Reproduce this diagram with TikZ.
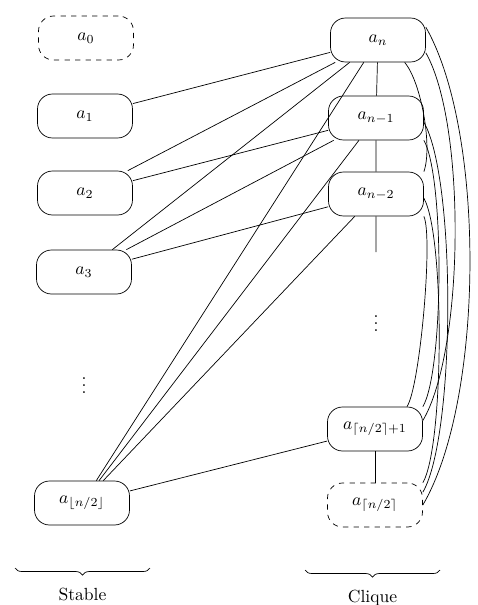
\documentclass[tikz,border=0pt]{standalone}
\usepackage{amsmath}
\usepackage{amssymb}
\usetikzlibrary{decorations.pathreplacing}

\begin{document}
\begin{tikzpicture}[x=0.02cm, y=-0.02cm,
  vert/.style={draw, rounded corners=0.3cm, minimum width=1.9cm,
               minimum height=0.88cm, align=center},
  ghost/.style={vert, dashed},
  clq/.style={bend left=30, looseness=#1}]
  \useasboundingbox (0,0) rectangle (477,605);

  % stable side
  \node[ghost] (a0)  at (86,  38) {$a_0$};
  \node[vert]  (a1)  at (85, 116) {$a_1$};
  \node[vert]  (a2)  at (85, 193) {$a_2$};
  \node[vert]  (a3)  at (84, 272) {$a_3$};
  \node        (ldots) at (84, 380) {$\vdots$};
  \node[vert]  (afl) at (82, 503) {$a_{\lfloor n/2\rfloor}$};

  % clique side
  \node[vert]  (an)  at (378,  40) {$a_n$};
  \node[vert]  (an1) at (376, 118) {$a_{n-1}$};
  \node[vert]  (an2) at (376, 194) {$a_{n-2}$};
  \coordinate  (cut) at (376, 252);
  \node        (rdots) at (376, 318) {$\vdots$};
  \node[vert]  (ac1) at (375, 429) {$a_{\lceil n/2\rceil+1}$};
  \node[ghost] (ac)  at (375, 505) {$a_{\lceil n/2\rceil}$};

  % stable -- clique
  \draw (a1) -- (an);
  \draw (a2) -- (an);  \draw (a2) -- (an1);
  \draw (a3) -- (an);  \draw (a3) -- (an1);  \draw (a3) -- (an2);
  \draw (afl) -- (an); \draw (afl) -- (an1); \draw (afl) -- (an2);
  \draw (afl) -- (ac1);

  % clique edges
  \draw (an) -- (an1) -- (an2) -- (cut);
  \draw (ac1) -- (ac);
  \draw (an.-40)  to[clq=0.6]  (an2.25);
  \draw (an.-15)  to[clq=0.57] (ac1.10);
  \draw (an.15)   to[clq=0.65] (ac.0);
  \draw (an1.-25) to[clq=0.4]  (ac1.25);
  \draw (an1.-5)  to[clq=0.45] (ac.15);
  \draw (an2.-25) to[clq=0.3]  (ac1.35);
  \draw (an2.-5)  to[clq=0.38] (ac.25);

  % braces
  \coordinate (sl) at (15, 568);  \coordinate (sr) at (150, 568);
  \coordinate (cl) at (305, 570); \coordinate (cr) at (440, 570);
  \draw[decorate, decoration={brace, mirror, amplitude=4pt}] (sl) -- (sr)
    node[midway, below=8pt] (stab) {Stable};
  \draw[decorate, decoration={brace, mirror, amplitude=4pt}] (cl) -- (cr)
    node[midway, below=8pt] (cliq) {Clique};
\end{tikzpicture}
\end{document}
